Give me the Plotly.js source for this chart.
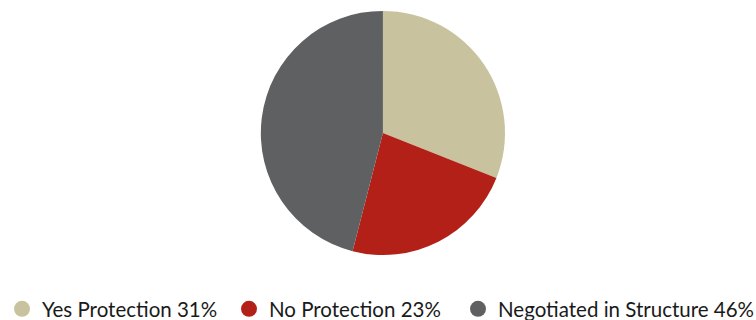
<!DOCTYPE html>
<html>
<head>
<meta charset="utf-8">
<script src="https://cdn.plot.ly/plotly-3.0.1.min.js"></script>
<style>html,body{margin:0;padding:0;background:#fff;}#chart{width:756px;height:320px;}</style>
</head>
<body>
<div id="chart"></div>
<script>
const labels = ["Yes Protection 31%", "No Protection 23%", "Negotiated in Structure 46%"];
const values = [31, 23, 46];
const colors = ["#c8c39e", "#b22018", "#5f6062"];

const traces = [{
  type: "pie",
  labels: labels,
  values: values,
  marker: {colors: colors, line: {color: "#ffffff", width: 0}},
  sort: false,
  direction: "clockwise",
  rotation: 0,
  textinfo: "none",
  hoverinfo: "label",
  showlegend: false,
  domain: {x: [0.345, 0.668], y: [0.203, 0.966]}
}];
const legendIds = ["legend", "legend2", "legend3"];
labels.forEach((l, i) => {
  traces.push({
    type: "scatter", mode: "markers", x: [null], y: [null], name: l,
    marker: {color: colors[i], size: 17, symbol: "circle"},
    showlegend: true, hoverinfo: "skip", legend: legendIds[i]
  });
});

const markerX = [22, 249, 478];
const legendFont = {family: "Lato, sans-serif", size: 20.5, color: "#1a1a1a"};
const layout = {
  width: 756, height: 320,
  margin: {l: 0, r: 0, t: 0, b: 0, autoexpand: false},
  paper_bgcolor: "#ffffff", plot_bgcolor: "#ffffff",
  xaxis: {visible: false}, yaxis: {visible: false},
  showlegend: true
};
legendIds.forEach((id, i) => {
  layout[id] = {
    orientation: "h", x: (markerX[i] - 20) / 756, xanchor: "left",
    y: 11 / 320, yanchor: "middle",
    bgcolor: "rgba(0,0,0,0)", borderwidth: 0,
    font: legendFont
  };
});
Plotly.newPlot("chart", traces, layout, {staticPlot: true});
</script>
</body>
</html>
